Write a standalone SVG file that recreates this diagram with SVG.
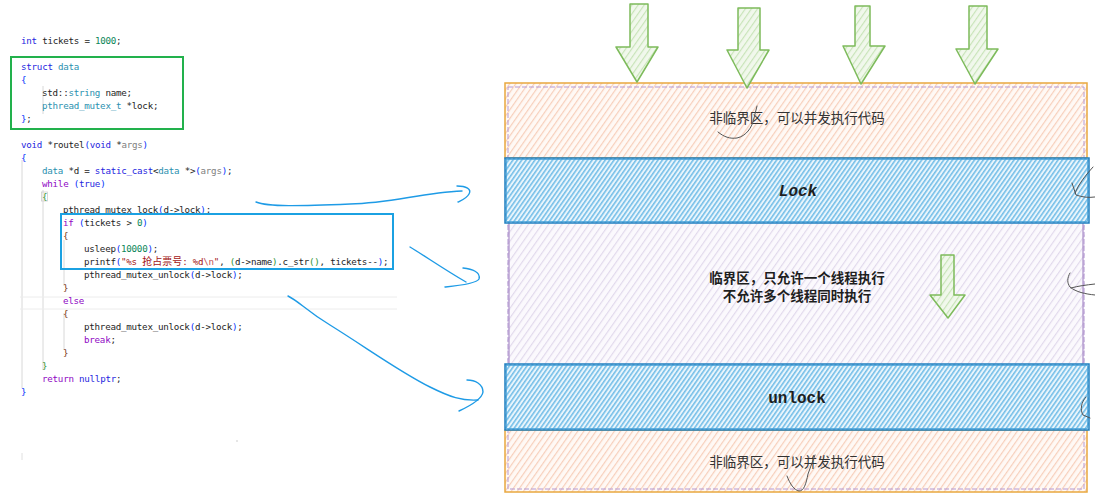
<svg xmlns="http://www.w3.org/2000/svg" width="1095" height="498" viewBox="0 0 1095 498">
<style>
.code{font-family:"DejaVu Sans Mono","Liberation Mono",monospace;font-size:9.2px;letter-spacing:-0.25px;fill:#1e1e1e;white-space:pre}
.kw{fill:#1f1fe0}.ty{fill:#2b91af}.nm{fill:#098658}.ct{fill:#8f08c4}.st{fill:#a31515}.pa{fill:#808080}.b1{fill:#0431fa}.b2{fill:#319331}.b3{fill:#7b3814}.esc{fill:#c05050}
.cjk{font-family:"Noto Sans CJK SC","Noto Sans CJK JP",sans-serif;font-size:10px;letter-spacing:0}
.guide{stroke:#d8d8d8;stroke-width:1}
.conn{fill:none;stroke:#1e9be6;stroke-width:1.4;stroke-linecap:round;stroke-linejoin:round}
.garrow{fill:url(#hGr);stroke:#7dbb5b;stroke-width:1.5;stroke-linejoin:round}
.lbl{font-family:"Noto Sans CJK SC","Noto Sans CJK JP",sans-serif;font-size:13.5px;fill:#333;text-anchor:middle}
.lblb{font-family:"Noto Sans CJK SC","Noto Sans CJK JP",sans-serif;font-size:13.5px;font-weight:bold;fill:#1e1e1e;text-anchor:middle}
.mono{font-family:"Liberation Mono","DejaVu Sans Mono",monospace;font-size:16px;font-weight:bold;fill:#1e1e1e;text-anchor:middle}
.mark{fill:none;stroke:#555;stroke-width:1;stroke-linecap:round}
</style>
<defs>
<pattern id="hOr" patternUnits="userSpaceOnUse" width="5" height="5" patternTransform="rotate(35)"><rect width="5" height="5" fill="#fff9f5"/><line x1="0.6" y1="0" x2="0.6" y2="5" stroke="#f7cfbb" stroke-width="1.2"/></pattern>
<pattern id="hPu" patternUnits="userSpaceOnUse" width="5.5" height="5.5" patternTransform="rotate(35)"><rect width="5.5" height="5.5" fill="#fbf9fd"/><line x1="0.6" y1="0" x2="0.6" y2="5.5" stroke="#e0d8ec" stroke-width="1.1"/></pattern>
<pattern id="hBl" patternUnits="userSpaceOnUse" width="3.6" height="3.6" patternTransform="rotate(35)"><rect width="3.6" height="3.6" fill="#e9f5fc"/><line x1="0.8" y1="0" x2="0.8" y2="3.6" stroke="#5db3e4" stroke-width="1.3"/></pattern>
<pattern id="hGr" patternUnits="userSpaceOnUse" width="5" height="5" patternTransform="rotate(35)"><rect width="5" height="5" fill="#f1f8ec"/><line x1="0.6" y1="0" x2="0.6" y2="5" stroke="#c6e3b6" stroke-width="1.1"/></pattern>
</defs>
<rect width="1095" height="498" fill="#ffffff"/>

<g id="code">
<line class="guide" x1="22" y1="160" x2="22" y2="388"/>
<line class="guide" x1="43" y1="190" x2="43" y2="370"/>
<line class="guide" x1="64" y1="240" x2="64" y2="286"/>
<line class="guide" x1="64" y1="313" x2="64" y2="350"/>
<line class="guide" x1="43" y1="86" x2="43" y2="114"/>
<line x1="20" y1="297" x2="397" y2="297" stroke="#ececec"/>
<line x1="20" y1="309" x2="397" y2="309" stroke="#ececec"/>
<line x1="22" y1="453" x2="22" y2="460" stroke="#e0e0e0"/>
<rect x="41.5" y="192" width="6" height="9" fill="none" stroke="#cfcfcf" stroke-width="0.8"/>
<text class="code" x="21" y="44"><tspan class="kw">int</tspan> tickets = <tspan class="nm">1000</tspan>;</text>
<text class="code" x="21" y="70"><tspan class="kw">struct</tspan> <tspan class="ty">data</tspan></text>
<text class="code" x="21" y="83"><tspan class="b1">{</tspan></text>
<text class="code" x="42" y="96">std::<tspan class="ty">string</tspan> name;</text>
<text class="code" x="42" y="109"><tspan class="ty">pthread_mutex_t</tspan> *lock;</text>
<text class="code" x="21" y="122"><tspan class="b1">}</tspan>;</text>
<text class="code" x="21" y="148"><tspan class="kw">void</tspan> *routel<tspan class="b1">(</tspan><tspan class="kw">void</tspan> *<tspan class="pa">args</tspan><tspan class="b1">)</tspan></text>
<text class="code" x="21" y="161"><tspan class="b1">{</tspan></text>
<text class="code" x="42" y="174"><tspan class="ty">data</tspan> *d = <tspan class="kw">static_cast</tspan>&lt;<tspan class="ty">data</tspan> *&gt;<tspan class="b1">(</tspan><tspan class="pa">args</tspan><tspan class="b1">)</tspan>;</text>
<text class="code" x="42" y="187"><tspan class="ct">while</tspan> <tspan class="b1">(</tspan><tspan class="kw">true</tspan><tspan class="b1">)</tspan></text>
<text class="code" x="42" y="200"><tspan class="b2">{</tspan></text>
<text class="code" x="63" y="213">pthread_mutex_lock<tspan class="b1">(</tspan>d-&gt;lock<tspan class="b1">)</tspan>;</text>
<text class="code" x="63" y="226"><tspan class="ct">if</tspan> <tspan class="b1">(</tspan>tickets &gt; <tspan class="nm">0</tspan><tspan class="b1">)</tspan></text>
<text class="code" x="63" y="239"><tspan class="b3">{</tspan></text>
<text class="code" x="84" y="252">usleep<tspan class="b1">(</tspan><tspan class="nm">10000</tspan><tspan class="b1">)</tspan>;</text>
<text class="code" x="84" y="265">printf<tspan class="b1">(</tspan><tspan class="st">"%s </tspan><tspan class="st cjk">抢占票号</tspan><tspan class="st">: %d</tspan><tspan class="esc">\n</tspan><tspan class="st">"</tspan>, <tspan class="b2">(</tspan>d-&gt;name<tspan class="b2">)</tspan>.c_str<tspan class="b2">()</tspan>, tickets--<tspan class="b1">)</tspan>;</text>
<text class="code" x="84" y="278">pthread_mutex_unlock<tspan class="b1">(</tspan>d-&gt;lock<tspan class="b1">)</tspan>;</text>
<text class="code" x="63" y="291"><tspan class="b3">}</tspan></text>
<text class="code" x="63" y="304"><tspan class="ct">else</tspan></text>
<text class="code" x="63" y="317"><tspan class="b3">{</tspan></text>
<text class="code" x="84" y="330">pthread_mutex_unlock<tspan class="b1">(</tspan>d-&gt;lock<tspan class="b1">)</tspan>;</text>
<text class="code" x="84" y="343"><tspan class="ct">break</tspan>;</text>
<text class="code" x="63" y="356"><tspan class="b3">}</tspan></text>
<text class="code" x="42" y="369"><tspan class="b2">}</tspan></text>
<text class="code" x="42" y="382"><tspan class="ct">return</tspan> <tspan class="kw">nullptr</tspan>;</text>
<text class="code" x="21" y="395"><tspan class="b1">}</tspan></text>
</g>
<g id="struct-box"><rect x="11" y="57" width="172" height="72" fill="none" stroke="#22b14c" stroke-width="2"/></g>
<g id="if-box"><rect x="61" y="214" width="332" height="55" fill="none" stroke="#1ba1e2" stroke-width="2"/></g>

<g id="critical-area">
<rect x="507" y="86" width="578" height="404" fill="url(#hPu)" stroke="none"/>
</g>
<g id="non-critical-top">
<rect x="505" y="83" width="582" height="75" fill="url(#hOr)" stroke="#e9a83f" stroke-width="1.5"/>
<text class="lbl" x="797" y="123">非临界区，可以并发执行代码</text>
</g>
<g id="non-critical-bottom">
<rect x="505" y="430" width="582" height="62" fill="url(#hOr)" stroke="#e9a83f" stroke-width="1.5"/>
<text class="lbl" x="797" y="467">非临界区，可以并发执行代码</text>
</g>
<rect x="508" y="87" width="576" height="402" fill="none" stroke="#b59ad3" stroke-width="1" stroke-dasharray="5 2"/>
<line x1="509" y1="223" x2="509" y2="364" stroke="#a98cc8" stroke-width="1.2"/>
<line x1="1083" y1="223" x2="1083" y2="364" stroke="#a98cc8" stroke-width="1.2"/>
<g id="lock">
<rect x="505" y="158" width="584" height="65" fill="url(#hBl)" stroke="#1f7fc0" stroke-width="1.5"/>
<rect x="506.5" y="159.5" width="581" height="62" fill="none" stroke="#4aa3d9" stroke-width="0.8"/>
<text class="mono" x="798" y="196" font-style="italic">Lock</text>
</g>
<g id="critical-label">
<text class="lblb" x="797" y="283">临界区，只允许一个线程执行</text>
<text class="lblb" x="797" y="301">不允许多个线程同时执行</text>
</g>
<g id="unlock">
<rect x="505" y="364" width="584" height="66" fill="url(#hBl)" stroke="#1f7fc0" stroke-width="1.5"/>
<rect x="506.5" y="365.5" width="581" height="63" fill="none" stroke="#4aa3d9" stroke-width="0.8"/>
<text class="mono" x="797" y="403">unlock</text>
</g>

<g id="thread-arrows">
<polygon class="garrow" points="630,4 648,4 648,47 658,47 637,82 616,47 630,47"/>
<polygon class="garrow" points="738,8 760,8 760,50 769,50 747,88 727,50 738,50"/>
<polygon class="garrow" points="855,6 870,6 870,46 885,46 861,84 843,46 855,46"/>
<polygon class="garrow" points="969,6 987,6 987,49 998,49 975,84 956,49 969,49"/>
<polygon class="garrow" points="941,255 954,255 954,295 965,295 948,318 930,295 941,295"/>
</g>

<g id="marks">
<path class="mark" d="M718,132 C724,137 730,139 737,138 C746,136 752,128 754,118 L757,106"/>
<path class="mark" d="M787,476 C790,484 794,490 799,491 C804,491 806,484 808,474 L815,455"/>
<path class="mark" d="M1093,167 C1086,175 1079,183 1075,193 M1072,183 L1076,195 C1082,197 1088,198 1095,197"/>
<path class="mark" d="M1070,273 C1067,278 1067,283 1070,287 C1076,292 1085,294 1095,295 M1071,288 C1078,286 1086,285 1095,284"/>
<path class="mark" d="M1086,397 C1081,402 1080,410 1083,415 L1090,418"/>
<circle cx="237" cy="441" r="0.7" fill="#bbb"/>
</g>

<g id="connectors">
<path class="conn" d="M256,202 C268,207 300,206 350,204 C392,203 420,193 462,191"/>
<path class="conn" d="M457,186 C466,186 472,189 469,194 C467,198 462,200 458,202"/>
<path class="conn" d="M410,247 C425,256 445,270 466,282"/>
<path class="conn" d="M463,268 C472,269 481,272 479,279 C476,284 455,286 445,287"/>
<path class="conn" d="M288,296 C300,302 305,310 330,325 C370,350 400,372 430,387 C450,397 462,401 478,400"/>
<path class="conn" d="M467,380 C475,380 483,384 483,392 C482,399 472,405 459,411"/>
</g>
</svg>
